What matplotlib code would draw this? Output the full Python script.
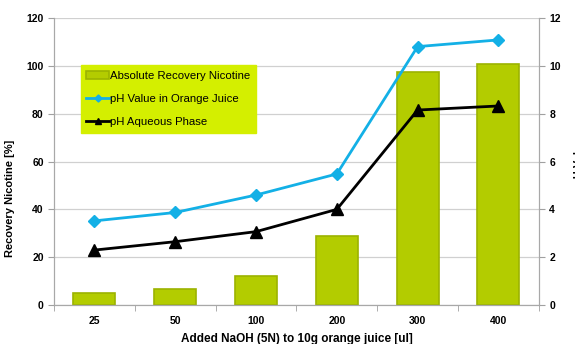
import matplotlib
matplotlib.use("Agg")
import matplotlib.pyplot as plt
import numpy as np

categories = ["25", "50", "100", "200", "300", "400"]
recovery = [4.9, 6.6, 12.1, 28.9, 97.3, 100.8]
ph_juice = [3.52, 3.87, 4.6, 5.48, 10.8, 11.08]
ph_aqueous = [2.3, 2.65, 3.07, 4.0, 8.15, 8.32]

plt.rcParams['font.family'] = ['Liberation Sans', 'DejaVu Sans']
plt.rcParams['font.weight'] = 'bold'

fig = plt.figure(figsize=(5.75, 3.44), dpi=100)
ax = fig.add_axes([0.094, 0.113, 0.843, 0.835])
ax2 = ax.twinx()

x = np.arange(len(categories))
bars = ax.bar(x, recovery, width=0.52, color='#b3cc00', edgecolor='#9cb300',
              linewidth=1.2, label='Absolute Recovery Nicotine', zorder=2)
ax.set_xlim(-0.5, len(categories) - 0.5)
ax.set_ylim(0, 120)
ax.set_yticks(range(0, 121, 20))
ax.grid(axis='y', color='#d0d0d0', linewidth=0.9, zorder=0)
ax.set_axisbelow(True)
ax.set_xticks(x)
ax.set_xticklabels(categories)
ax.set_xticks(np.arange(-0.5, len(categories), 1.0), minor=True)
ax.tick_params(axis='x', which='major', length=0, labelsize=7.5, pad=8)
ax.tick_params(axis='x', which='minor', length=4, color='#a0a0a0', direction='out')
ax.tick_params(axis='y', labelsize=7.5, length=4, color='#a0a0a0')
ax.set_ylabel('Recovery Nicotine [%]', fontsize=8, fontweight='bold')
ax.yaxis.set_label_coords(-0.08, 0.37)
ax.set_xlabel('Added NaOH (5N) to 10g orange juice [ul]', fontsize=8.5, fontweight='bold', labelpad=5)

l1, = ax2.plot(x, ph_juice, color='#13b0e6', linewidth=2, marker='D', markersize=6,
               label='pH Value in Orange Juice', zorder=3)
l2, = ax2.plot(x, ph_aqueous, color='black', linewidth=2, marker='^', markersize=8,
               label='pH Aqueous Phase', zorder=3)
ax2.set_ylim(0, 12)
ax2.set_yticks(range(0, 13, 2))
ax2.tick_params(axis='y', labelsize=7.5, length=4, color='#a0a0a0')
ax2.set_ylabel('pH Value', fontsize=8, fontweight='bold', rotation=90)
ax2.yaxis.set_label_coords(1.072, 0.5)

for a in (ax, ax2):
    a.spines['top'].set_visible(False)
    for s in ('left', 'right', 'bottom'):
        a.spines[s].set_color('#a8a8a8')

leg = ax2.legend([bars, l1, l2], [b.get_label() for b in (bars, l1, l2)],
                 loc='upper left', bbox_to_anchor=(0.055, 0.835), fontsize=8.2,
                 frameon=True, fancybox=False, facecolor='#d4ef00', edgecolor='#d4ef00',
                 framealpha=1, handlelength=2.0, handletextpad=0.1, markerscale=0.6,
                 borderpad=0.5, labelspacing=1.15, borderaxespad=0)
for t in leg.get_texts():
    t.set_fontweight('normal')

fig.savefig('out.png', dpi=100)
